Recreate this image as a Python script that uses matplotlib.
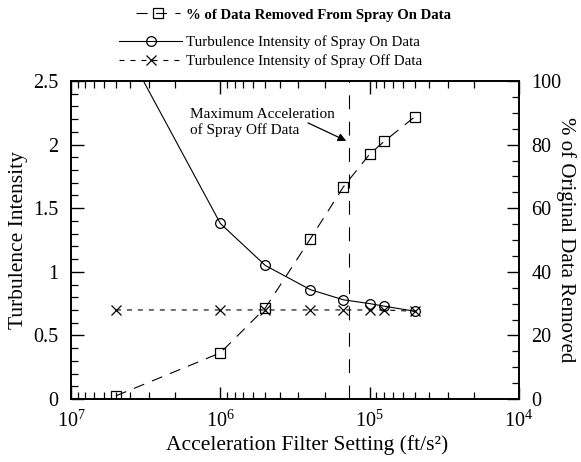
import numpy as np
import matplotlib
matplotlib.use('Agg')
import matplotlib.pyplot as plt
from matplotlib.lines import Line2D
from matplotlib.ticker import MultipleLocator, FuncFormatter

plt.rcParams['font.family'] = ['Liberation Serif', 'DejaVu Serif']
plt.rcParams['mathtext.fontset'] = 'stix'
plt.rcParams['lines.scale_dashes'] = False

# acceleration filter settings (ft/s^2) and results
accel = [5e6, 1e6, 5e5, 2.5e5, 1.5e5, 1e5, 8e4, 5e4]
ti_spray_on = [2.9, 1.38, 1.05, 0.86, 0.78, 0.75, 0.73, 0.69]
ti_spray_off = [0.70, 0.70, 0.70, 0.70, 0.70, 0.70, 0.70, 0.69]
pct_removed = [1.0, 14.5, 28.6, 50.3, 66.7, 77.0, 81.0, 88.7]
max_accel_off = 1.37e5

lw = 0.8
sq_dash = (0, (8.0, 6.0))
x_dash = (0, (3.6, 4.3))
vline_dash = (0, (10.0, 9.0))

fig = plt.figure(figsize=(5.81, 4.62), dpi=100)
ax = fig.add_axes([71 / 581, 1 - 399 / 462, 448 / 581, 318 / 462])
ax2 = ax.twinx()

ax.plot(accel, ti_spray_on, color='k', lw=lw, marker='o', ms=7,
        mfc='none', mec='k', mew=0.9)
ax.plot(accel, ti_spray_off, color='k', lw=lw, ls=x_dash, marker='x',
        ms=7, mec='k', mew=0.9)
ax2.plot(accel, pct_removed, color='k', lw=lw, ls=sq_dash, marker='s',
         ms=7, mfc='none', mec='k', mew=0.9)
ax.axvline(max_accel_off, color='k', lw=lw, ls=vline_dash)

ax.text(1.59e6, 2.175, 'Maximum Acceleration\nof Spray Off Data',
        ha='left', va='center', fontsize=11, linespacing=1.2)
ax.annotate('', xy=(1.38e5, 2.02), xytext=(2.69e5, 2.18),
            arrowprops=dict(arrowstyle='-|>', color='k', lw=0.9,
                            mutation_scale=12))

ax.set_xscale('log')
ax.set_xlim(1e7, 1e4)
ax.set_ylim(0, 2.5)
ax2.set_ylim(0, 100)

ax.yaxis.set_major_locator(MultipleLocator(0.5))
ax.yaxis.set_minor_locator(MultipleLocator(0.1))
ax.yaxis.set_major_formatter(FuncFormatter(lambda v, p: '%g' % v))
ax2.yaxis.set_major_locator(MultipleLocator(20))
ax2.yaxis.set_minor_locator(MultipleLocator(5))

ax.tick_params(which='both', direction='in', top=True, right=False,
               labelsize=14.5)
ax.tick_params(axis='y', which='both', pad=9)
ax.tick_params(axis='x', which='both', pad=8)
ax.tick_params(which='major', length=9, width=1)
ax.tick_params(which='minor', length=5, width=0.9)
ax2.tick_params(which='both', direction='in', labelsize=14.5, pad=9)
ax2.tick_params(which='major', length=9, width=1)
ax2.tick_params(which='minor', length=5, width=0.9)

for a in (ax, ax2):
    for s in a.spines.values():
        s.set_linewidth(1.2)

ax.set_xlabel('Acceleration Filter Setting (ft/s\u00b2)', fontsize=15.5,
              labelpad=2)
ax.xaxis.set_label_coords(0.5 + 12 / 448, -0.115)
ax.set_ylabel('Turbulence Intensity', fontsize=15.5, labelpad=4)
fig.text(566 / 581, 1 - 240 / 462, '% of Original Data Removed',
         fontsize=15, rotation=-90, ha='center', va='center')

h_sq = Line2D([], [], color='k', lw=lw, ls=sq_dash, marker='s', ms=7,
              mfc='none', mec='k', mew=0.9)
h_on = Line2D([], [], color='k', lw=lw, marker='o', ms=7, mfc='none',
              mec='k', mew=0.9)
h_off = Line2D([], [], color='k', lw=lw, ls=x_dash, marker='x', ms=7,
               mec='k', mew=0.9)

leg1 = fig.legend([h_sq], ['% of Data Removed From Spray On Data'],
                  loc='center left', bbox_to_anchor=(136 / 581, 1 - 15 / 462),
                  frameon=False, borderpad=0, borderaxespad=0,
                  handlelength=3.0, handletextpad=0.4,
                  prop={'size': 10.6, 'weight': 'bold'})
leg2 = fig.legend([h_on, h_off],
                  ['Turbulence Intensity of Spray On Data',
                   'Turbulence Intensity of Spray Off Data'],
                  loc='center left', bbox_to_anchor=(119 / 581, 1 - 52 / 462),
                  frameon=False, borderpad=0, borderaxespad=0,
                  handlelength=4.2, handletextpad=0.3, labelspacing=0.35,
                  prop={'size': 10.8})

fig.savefig('out.png', dpi=100)
